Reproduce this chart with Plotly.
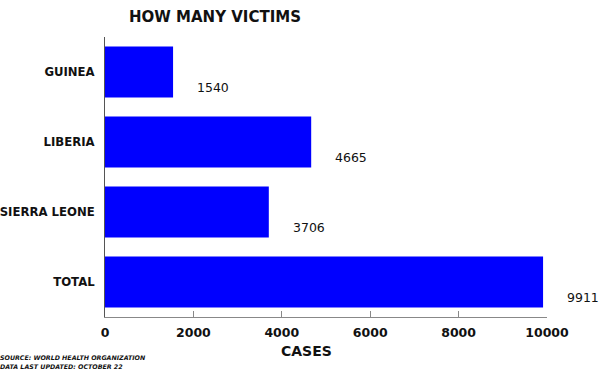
import plotly.graph_objects as go

countries = ["GUINEA", "LIBERIA", "SIERRA LEONE", "TOTAL"]
cases = [1540, 4665, 3706, 9911]
x_ticks = [0, 2000, 4000, 6000, 8000, 10000]
title_text = "HOW MANY VICTIMS"
x_title = "CASES"
source_lines = ["SOURCE: WORLD HEALTH ORGANIZATION", "DATA LAST UPDATED: OCTOBER 22"]

FONT = "'DejaVu Sans', sans-serif"

fig = go.Figure(go.Bar(
    x=cases, y=countries, orientation="h",
    marker=dict(color="#0000FF", line=dict(width=0)),
    hoverinfo="x+y",
))

for c, v in zip(countries, cases):
    fig.add_annotation(x=v, y=c, xref="x", yref="y", text=str(v), showarrow=False,
                       xanchor="left", yanchor="middle", xshift=22, yshift=-15,
                       font=dict(family=FONT, size=12.5, color="#111"))

fig.add_annotation(xref="paper", yref="paper", x=0, y=1, xshift=22, yshift=20,
                   xanchor="left", yanchor="middle", text="<b>" + title_text + "</b>",
                   showarrow=False, font=dict(family=FONT, size=15, color="#111"))

fig.add_annotation(xref="paper", yref="paper", x=0.5, y=0, xshift=-20, yshift=-34,
                   xanchor="center", yanchor="middle", text="<b>" + x_title + "</b>",
                   showarrow=False, font=dict(family=FONT, size=14, color="#111"))

for i, line in enumerate(source_lines):
    fig.add_annotation(xref="paper", yref="paper", x=0, y=0, xshift=-107,
                       yshift=-40 - 9 * i, xanchor="left", yanchor="middle",
                       text="<b><i>" + line + "</i></b>", showarrow=False,
                       font=dict(family=FONT, size=6.3, color="#111"))

fig.update_layout(
    width=600, height=373,
    margin=dict(l=105, r=53, t=37, b=56, autoexpand=False),
    paper_bgcolor="white", plot_bgcolor="white",
    bargap=0.27,
    showlegend=False,
    xaxis=dict(range=[0, 10000], tickvals=x_ticks, ticktext=[f"<b>{t}</b>" for t in x_ticks],
               automargin=False,
               showgrid=False, zeroline=False, showline=True, linecolor="#888", linewidth=1,
               ticks="inside", ticklen=6, tickcolor="#888",
               ticklabelstandoff=4,
               tickfont=dict(family=FONT, size=12.5, color="#111")),
    yaxis=dict(categoryorder="array", categoryarray=countries[::-1],
               ticktext=[f"<b>{c}</b>" for c in countries], tickvals=countries,
               automargin=False,
               showgrid=False, zeroline=False, showline=True, linecolor="#555", linewidth=1,
               ticks="", ticklabelstandoff=7,
               tickfont=dict(family=FONT, size=11.7, color="#111")),
)

# remove the browser's default 8px body margin so the figure fills the window
fig.write_html("out.html", config={"displayModeBar": False},
               post_script="document.body.style.margin='0';")
